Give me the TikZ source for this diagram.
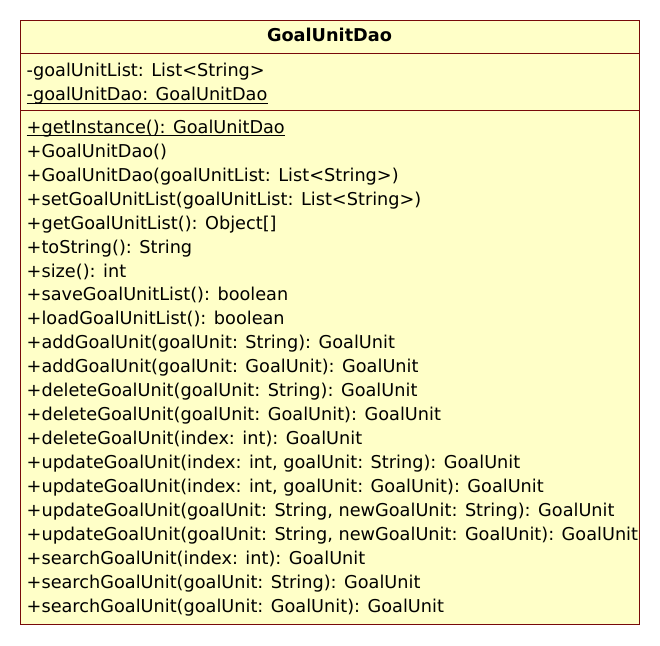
\documentclass[tikz,border=0pt]{standalone}
\usepackage{fontspec}
\setmainfont{DejaVu Sans}
\definecolor{umlfill}{RGB}{255,255,200}
\definecolor{umlline}{RGB}{120,10,10}
\begin{document}
\begin{tikzpicture}[x=1pt,y=-1pt,
  txt/.style={anchor=base west,inner sep=0pt,font=\fontsize{17.7}{20}\selectfont},
  ttl/.style={anchor=base,inner sep=0pt,font=\fontsize{17.7}{20}\selectfont\bfseries},
  box/.style={draw=umlline,fill=umlfill,line width=1pt}]
\useasboundingbox (0,0) rectangle (660,645);
\draw[box] (20.5,20.5) rectangle (639,624);
\draw[umlline,line width=1pt] (20.5,53.5) -- (639,53.5);
\draw[umlline,line width=1pt] (20.5,110.5) -- (639,110.5);
\node[ttl] (title) at (329.5,41.7) {GoalUnitDao};
\node[txt] (a1) at (26.5,76.7) {-goalUnitList: List<String>};
\node[txt] (a2) at (26.5,100.7) {-goalUnitDao: GoalUnitDao};
\draw[line width=0.9pt] ([yshift=-2.5pt]a2.base west) -- ([yshift=-2.5pt]a2.base east);
\foreach \i/\t in {
 0/{+getInstance(): GoalUnitDao},
 1/{+GoalUnitDao()},
 2/{+GoalUnitDao(goalUnitList: List<String>)},
 3/{+setGoalUnitList(goalUnitList: List<String>)},
 4/{+getGoalUnitList(): Object[]},
 5/{+toString(): String},
 6/{+size(): int},
 7/{+saveGoalUnitList(): boolean},
 8/{+loadGoalUnitList(): boolean},
 9/{+addGoalUnit(goalUnit: String): GoalUnit},
 10/{+addGoalUnit(goalUnit: GoalUnit): GoalUnit},
 11/{+deleteGoalUnit(goalUnit: String): GoalUnit},
 12/{+deleteGoalUnit(goalUnit: GoalUnit): GoalUnit},
 13/{+deleteGoalUnit(index: int): GoalUnit},
 14/{+updateGoalUnit(index: int, goalUnit: String): GoalUnit},
 15/{+updateGoalUnit(index: int, goalUnit: GoalUnit): GoalUnit},
 16/{+updateGoalUnit(goalUnit: String, newGoalUnit: String): GoalUnit},
 17/{+updateGoalUnit(goalUnit: String, newGoalUnit: GoalUnit): GoalUnit},
 18/{+searchGoalUnit(index: int): GoalUnit},
 19/{+searchGoalUnit(goalUnit: String): GoalUnit},
 20/{+searchGoalUnit(goalUnit: GoalUnit): GoalUnit}}
 \node[txt] (m\i) at (26.5,133.3+23.95*\i) {\t};
\draw[line width=0.9pt] ([yshift=-2.5pt]m0.base west) -- ([yshift=-2.5pt]m0.base east);
\end{tikzpicture}
\end{document}
